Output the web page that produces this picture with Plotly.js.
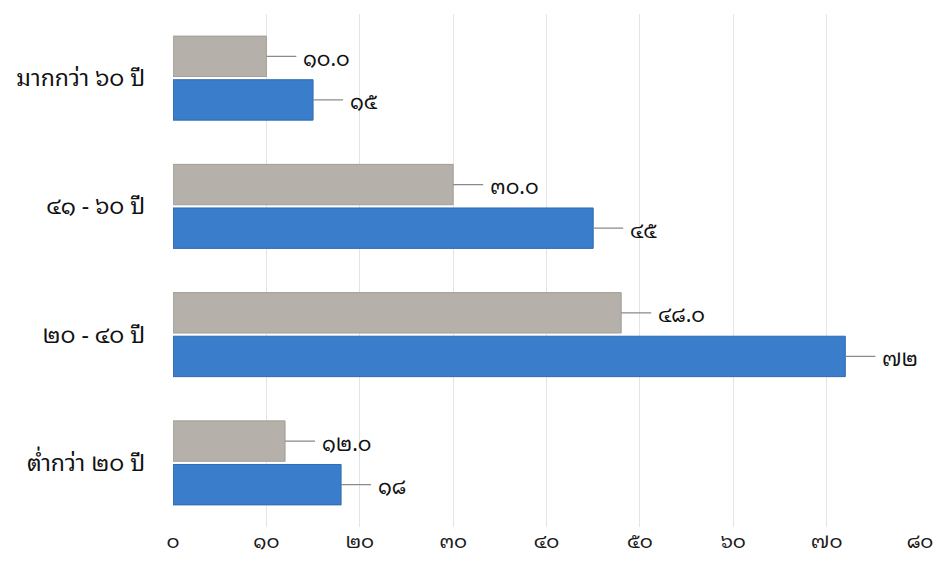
<!DOCTYPE html>
<html>
<head>
<meta charset="utf-8">
<script src="https://cdn.plot.ly/plotly-3.0.1.min.js"></script>
<style>
html,body{margin:0;padding:0;background:#fff;}
#chart{width:936px;height:571px;}
</style>
</head>
<body>
<div id="chart"></div>
<script>
// Categories listed bottom to top
const categories = ['ต่ำกว่า ๒๐ ปี', '๒๐ - ๔๐ ปี', '๔๑ - ๖๐ ปี', 'มากกว่า ๖๐ ปี'];
const greyValues = [12.0, 48.0, 30.0, 10.0];
const blueValues = [18, 72, 45, 15];
const greyLabels = ['๑๒.๐', '๔๘.๐', '๓๐.๐', '๑๐.๐'];
const blueLabels = ['๑๘', '๗๒', '๔๕', '๑๕'];
const tickValues = [0, 10, 20, 30, 40, 50, 60, 70, 80];
const tickLabels = ['๐', '๑๐', '๒๐', '๓๐', '๔๐', '๕๐', '๖๐', '๗๐', '๘๐'];

const greyColor = '#b5b0a9';
const blueColor = '#3a7dcb';
const barOffset = 0.17;
const barWidth = 0.315;
const fontStack = 'Noto Sans Thai Looped, Loma, Garuda, Norasi, Noto Sans, DejaVu Sans, sans-serif';

const idx = categories.map((c, i) => i);
const greyPos = idx.map(i => i + barOffset);
const bluePos = idx.map(i => i - barOffset);

const traces = [
  {
    type: 'bar', orientation: 'h',
    x: blueValues, y: bluePos, width: barWidth,
    marker: {color: blueColor, line: {color: '#2f6bb3', width: 1}},
    hoverinfo: 'x', showlegend: false
  },
  {
    type: 'bar', orientation: 'h',
    x: greyValues, y: greyPos, width: barWidth,
    marker: {color: greyColor, line: {color: '#a39e97', width: 1}},
    hoverinfo: 'x', showlegend: false
  }
];

const labelFont = {family: fontStack, size: 21, color: '#111111'};
function makeAnn(v, p, t) {
  return {
    x: v, y: p, xref: 'x', yref: 'y', text: t,
    showarrow: true, arrowhead: 0, arrowwidth: 1.2, arrowcolor: '#8a8a8a',
    ax: 30, ay: 0, xanchor: 'left', yanchor: 'middle', standoff: 0, borderpad: 6,
    font: labelFont
  };
}
const annotations = [];
idx.forEach(i => {
  annotations.push(makeAnn(greyValues[i], greyPos[i], greyLabels[i]));
  annotations.push(makeAnn(blueValues[i], bluePos[i], blueLabels[i]));
});

const layout = {
  width: 936, height: 571,
  margin: {l: 173, r: 16, t: 14, b: 44},
  paper_bgcolor: '#ffffff', plot_bgcolor: '#ffffff',
  font: {family: fontStack, color: '#111111'},
  xaxis: {
    range: [0, 80], tickvals: tickValues, ticktext: tickLabels,
    showgrid: true, gridcolor: '#e4e4e4', gridwidth: 1, zeroline: false,
    showline: false, ticks: '', ticklabelstandoff: 0,
    tickfont: {size: 20, color: '#1a1a1a'}, fixedrange: true
  },
  yaxis: {
    range: [-0.5, 3.5], tickvals: idx, ticktext: categories,
    showgrid: false, zeroline: false, showline: false, ticks: '',
    ticklabelstandoff: 27,
    tickfont: {size: 23, color: '#111111'}, fixedrange: true
  },
  annotations: annotations
};

Plotly.newPlot('chart', traces, layout, {displayModeBar: false, staticPlot: true});
</script>
</body>
</html>
